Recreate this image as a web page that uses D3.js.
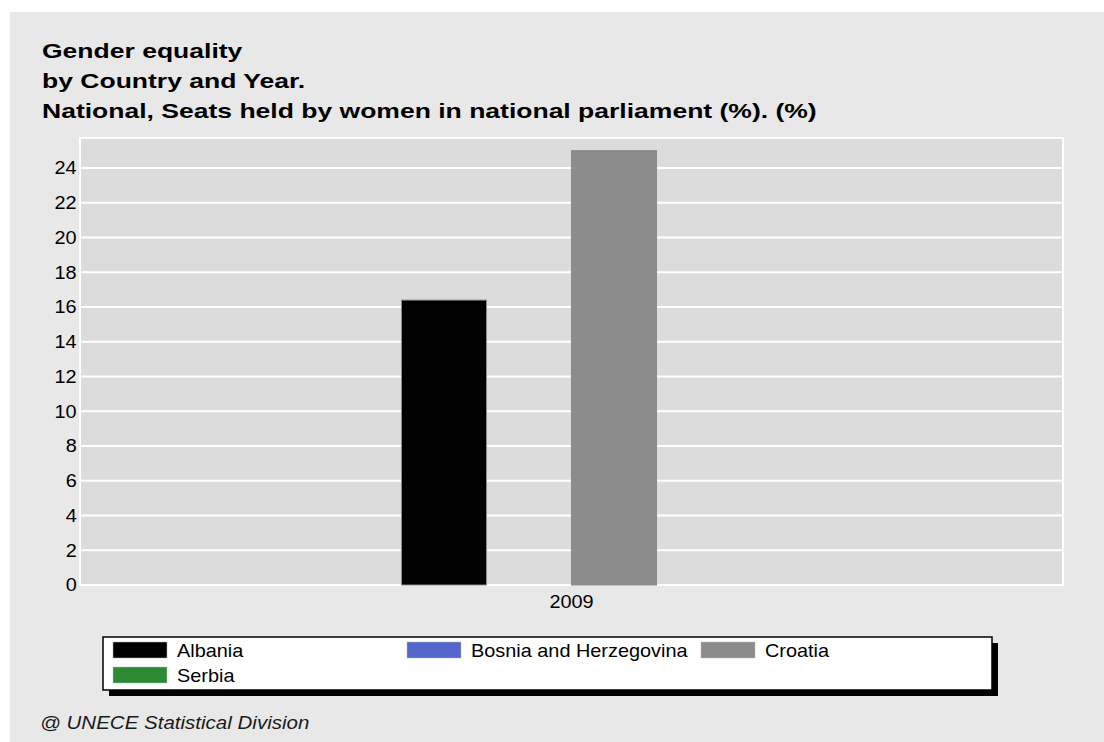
<!DOCTYPE html>
<html>
<head>
<meta charset="utf-8">
<script src="https://cdn.jsdelivr.net/npm/d3@7"></script>
<style>
  html, body { margin: 0; padding: 0; background: #ffffff; }
  svg { display: block; font-family: "Liberation Sans", Arial, sans-serif; }
</style>
</head>
<body>
<svg id="chart" width="1104" height="742"></svg>
<script>
// Seats held by women in national parliament (%), 2009
const years = ["2009"];
const countries = ["Albania", "Bosnia and Herzegovina", "Croatia", "Serbia"];
const colors = ["#000000", "#5466cc", "#8c8c8c", "#2b8a33"];
const albania = [16.4];
const bosnia = [null];
const croatia = [25.0];
const serbia = [null];
const yTicks = [0, 2, 4, 6, 8, 10, 12, 14, 16, 18, 20, 22, 24];
const titleLines = [
  "Gender equality",
  "by Country and Year.",
  "National, Seats held by women in national parliament (%). (%)"
];
const credit = "@ UNECE Statistical Division";

const seriesValues = [albania, bosnia, croatia, serbia];

// the chart's fonts run wide, so text is stretched horizontally
const TEXT_SX = 1.105;
const CREDIT_SX = 1.14;
const TITLE_SX = 1.263;

const svg = d3.select("#chart");

// panel background
svg.append("rect").attr("x", 10).attr("y", 12).attr("width", 1094).attr("height", 730).attr("fill", "#e8e8e8");

// title
const title = svg.append("g").attr("font-weight", "bold").attr("font-size", 21).attr("fill", "#000");
titleLines.forEach((t, i) => {
  title.append("text")
    .attr("transform", `translate(42,${58 + i * 30}) scale(${TITLE_SX},1)`)
    .text(t);
});

const plot = { left: 80, top: 138, right: 1063, bottom: 585 };

const x0 = d3.scaleBand().domain(years).range([plot.left, plot.right]).paddingInner(0).paddingOuter(0.9456);
const x1 = d3.scaleBand().domain(countries).range([0, x0.bandwidth()]);
const y = d3.scaleLinear().domain([0, 25.73]).range([plot.bottom, plot.top]);

// plot background
svg.append("rect")
  .attr("x", plot.left).attr("y", plot.top)
  .attr("width", plot.right - plot.left).attr("height", plot.bottom - plot.top)
  .attr("fill", "#dcdcdc").attr("stroke", "#ffffff").attr("stroke-width", 2);

// gridlines
svg.append("g").selectAll("line").data(yTicks).join("line")
  .attr("x1", plot.left).attr("x2", plot.right)
  .attr("y1", d => y(d)).attr("y2", d => y(d))
  .attr("stroke", "#ffffff").attr("stroke-width", 2);

// y axis labels
const yAxis = d3.axisLeft(y).tickValues(yTicks).tickSize(0).tickPadding(3);
const gy = svg.append("g").attr("transform", `translate(${plot.left},0)`).call(yAxis);
gy.select(".domain").remove();
gy.selectAll("text").attr("font-size", 18).attr("font-family", "Liberation Sans, Arial, sans-serif")
  .attr("fill", "#000").attr("transform", `scale(${TEXT_SX},1)`);

// x axis labels
const xAxis = d3.axisBottom(x0).tickSize(0).tickPadding(10);
const gx = svg.append("g").attr("transform", `translate(0,${plot.bottom})`).call(xAxis);
gx.select(".domain").remove();
gx.selectAll("text").attr("font-size", 18).attr("font-family", "Liberation Sans, Arial, sans-serif")
  .attr("fill", "#000").attr("transform", `scale(${TEXT_SX},1)`);

// bars
const barData = [];
years.forEach((yr, yi) => {
  countries.forEach((c, ci) => {
    const v = seriesValues[ci][yi];
    if (v != null) barData.push({ year: yr, country: c, value: v, color: colors[ci] });
  });
});
svg.append("g").selectAll("rect").data(barData).join("rect")
  .attr("x", d => x0(d.year) + x1(d.country))
  .attr("y", d => y(d.value))
  .attr("width", x1.bandwidth())
  .attr("height", d => y(0) - y(d.value))
  .attr("fill", d => d.color)
  .attr("stroke", "#8a8a8a").attr("stroke-width", 1);

// legend
const lg = { x: 103, y: 637, w: 889, h: 53 };
svg.append("rect").attr("x", lg.x + 6).attr("y", lg.y + 6).attr("width", lg.w).attr("height", lg.h).attr("fill", "#000");
svg.append("rect").attr("x", lg.x).attr("y", lg.y).attr("width", lg.w).attr("height", lg.h)
  .attr("fill", "#ffffff").attr("stroke", "#000").attr("stroke-width", 1.5);
const items = svg.append("g").selectAll("g").data(countries).join("g")
  .attr("transform", (d, i) => `translate(${113 + (i % 3) * 294},${642 + Math.floor(i / 3) * 25})`);
items.append("rect").attr("width", 54).attr("height", 16)
  .attr("fill", (d, i) => colors[i]).attr("stroke", "#bbb").attr("stroke-width", 0.5);
items.append("text").attr("transform", `translate(64,15) scale(${TEXT_SX},1)`)
  .attr("font-size", 18).attr("fill", "#000").text(d => d);

// credit
svg.append("text").attr("transform", `translate(40,729) scale(${CREDIT_SX},1)`)
  .attr("font-size", 18).attr("font-style", "italic")
  .attr("fill", "#1a1a1a").text(credit);
</script>
</body>
</html>
